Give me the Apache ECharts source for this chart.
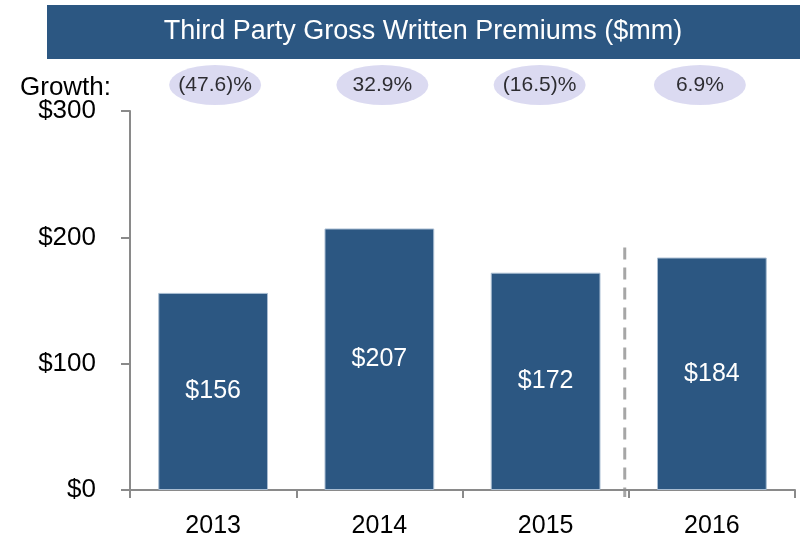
<!DOCTYPE html>
<html>
<head>
<meta charset="utf-8">
<script src="https://cdn.jsdelivr.net/npm/echarts@6/dist/echarts.min.js"></script>
<style>
  html, body { margin: 0; padding: 0; background: #fff; }
  #chart { width: 805px; height: 541px; }
</style>
</head>
<body>
<div id="chart"></div>
<script>
// chart data
const years = ['2013', '2014', '2015', '2016'];
const premiums = [156, 207, 172, 184];
const growth = ['(47.6)%', '32.9%', '(16.5)%', '6.9%'];
const yTicks = [0, 100, 200, 300];

const FONT = '"Liberation Sans", Arial, sans-serif';
const NAVY = '#2C5782';

// the bubbles sit a little off the category centres in the original
const bubbleShift = [2, 3, -6, -12];

const chart = echarts.init(document.getElementById('chart'));

chart.setOption({
  animation: false,
  textStyle: { fontFamily: FONT },
  grid: [
    { left: 130, right: 10, top: 111, bottom: 51 },
    // strip for the growth bubbles
    { left: 130, right: 10, top: 65, height: 40 }
  ],
  xAxis: [
    {
      type: 'category',
      data: years,
      gridIndex: 0,
      axisLine: { lineStyle: { color: '#8a8a8a', width: 2 } },
      axisTick: { show: true, length: 8, lineStyle: { color: '#8a8a8a', width: 2 } },
      axisLabel: { color: '#000', fontSize: 25, margin: 24, fontFamily: FONT }
    },
    {
      type: 'category',
      data: years,
      gridIndex: 1,
      show: false
    }
  ],
  yAxis: [
    {
      type: 'value',
      gridIndex: 0,
      min: yTicks[0],
      max: yTicks[yTicks.length - 1],
      interval: 100,
      axisLine: { show: true, lineStyle: { color: '#8a8a8a', width: 2 } },
      axisTick: { show: true, length: 9, lineStyle: { color: '#8a8a8a', width: 2 } },
      splitLine: { show: false },
      axisLabel: {
        color: '#000', fontSize: 26, margin: 34, fontFamily: FONT,
        formatter: v => '$' + v
      }
    },
    {
      type: 'value',
      gridIndex: 1,
      min: -1,
      max: 1,
      show: false
    }
  ],
  series: [
    {
      type: 'bar',
      data: premiums,
      xAxisIndex: 0,
      yAxisIndex: 0,
      barCategoryGap: '34%',
      itemStyle: { color: NAVY, borderColor: '#a9bdd2', borderWidth: 1 },
      label: {
        show: true,
        position: 'inside',
        color: '#fff',
        fontSize: 25,
        fontFamily: FONT,
        formatter: p => '$' + p.value
      }
    },
    {
      type: 'scatter',
      xAxisIndex: 1,
      yAxisIndex: 1,
      data: growth.map((g, i) => ({ value: 0, symbolOffset: [bubbleShift[i], 0] })),
      symbol: 'circle',
      symbolSize: [92, 40],
      itemStyle: { color: '#D2D1EE' },
      label: {
        show: true,
        position: 'inside',
        color: '#000',
        fontSize: 21,
        fontFamily: FONT,
        formatter: p => growth[p.dataIndex]
      }
    }
  ]
});

// title banner, "Growth:" caption and the dashed separator before 2016
const c15 = chart.convertToPixel({ xAxisIndex: 0 }, years[2]);
const c16 = chart.convertToPixel({ xAxisIndex: 0 }, years[3]);
const sepX = (c15 + c16) / 2 - 4;
const sepTop = chart.convertToPixel({ yAxisIndex: 0 }, 192);
const sepBottom = chart.convertToPixel({ yAxisIndex: 0 }, 0) + 7;

chart.setOption({
  graphic: [
    {
      type: 'rect',
      shape: { x: 47, y: 5, width: 753, height: 54 },
      style: { fill: NAVY }
    },
    {
      type: 'text',
      x: 423, y: 32,
      style: {
        text: 'Third Party Gross Written Premiums ($mm)',
        fill: '#fff', font: '27px ' + FONT,
        textAlign: 'center', textVerticalAlign: 'middle'
      }
    },
    {
      type: 'text',
      x: 20, y: 88,
      style: {
        text: 'Growth:',
        fill: '#000', font: '26px ' + FONT,
        textAlign: 'left', textVerticalAlign: 'middle'
      }
    },
    {
      type: 'line',
      shape: { x1: sepX, y1: sepTop, x2: sepX, y2: sepBottom },
      style: { stroke: '#a6a6a6', lineWidth: 3, lineDash: [12, 8] }
    }
  ]
});
</script>
</body>
</html>
